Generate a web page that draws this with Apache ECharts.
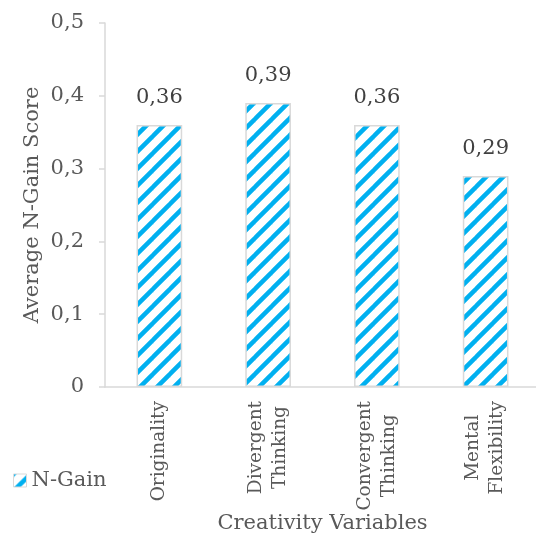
<!DOCTYPE html>
<html><head><meta charset="utf-8">
<script src="https://cdn.jsdelivr.net/npm/echarts@6/dist/echarts.min.js"></script>
<style>html,body{margin:0;padding:0;background:#fff}#c{width:536px;height:538px}</style>
</head><body><div id="c"></div>
<script>
const categories = ['Originality', 'Divergent\nThinking', 'Convergent\nThinking', 'Mental\nFlexibility'];
const nGain = [0.36, 0.39, 0.36, 0.29];
const yTicks = [0, 0.1, 0.2, 0.3, 0.4, 0.5];

function stripe() {
  const s = 17, c = document.createElement('canvas');
  c.width = s; c.height = s;
  const g = c.getContext('2d');
  g.fillStyle = '#fff'; g.fillRect(0, 0, s, s);
  g.strokeStyle = '#00B0F0'; g.lineWidth = 4.5; g.lineCap = 'square';
  for (const o of [-s, 0, s]) {
    g.beginPath(); g.moveTo(o, s); g.lineTo(o + s, 0); g.stroke();
  }
  return c;
}
const pat = { image: stripe(), repeat: 'repeat' };
const font = 'DejaVu Serif';
const fs = 21;
const xfs = 18.5;
const chart = echarts.init(document.getElementById('c'));
chart.setOption({
  animation: false,
  textStyle: { fontFamily: font },
  grid: { left: 105, right: -4, top: 23, bottom: 151, containLabel: false, outerBoundsMode: 'none' },
  legend: {
    left: 8, top: 465, itemWidth: 13, itemHeight: 13, itemGap: 4,
    textStyle: { fontFamily: font, fontSize: fs, color: '#595959' },
    data: [{ name: 'N-Gain', icon: 'rect', itemStyle: { color: pat, borderColor: '#d9d9d9', borderWidth: 1 } }]
  },
  xAxis: {
    type: 'category', data: categories,
    name: 'Creativity Variables', nameLocation: 'middle', nameGap: 126, nameMoveOverlap: false,
    nameTextStyle: { fontFamily: font, fontSize: fs, color: '#595959' },
    axisLine: { lineStyle: { color: '#d9d9d9', width: 1.5 } },
    axisTick: { show: false },
    axisLabel: {
      rotate: 90, margin: 14, interval: 0, fontSize: xfs, color: '#595959', lineHeight: 24,
      formatter: v => v.split('\n').map(l => '{c|' + l + '}').join('\n'),
      rich: { c: { align: 'center', fontSize: xfs, fontFamily: font, color: '#595959', lineHeight: 24 } }
    }
  },
  yAxis: {
    type: 'value', min: 0, max: 0.5, interval: 0.1,
    name: 'Average N-Gain Score', nameLocation: 'middle', nameGap: 62, nameMoveOverlap: false,
    nameTextStyle: { fontFamily: font, fontSize: fs, color: '#595959' },
    axisLine: { show: true, lineStyle: { color: '#d9d9d9', width: 1.5 } },
    axisTick: { show: true, length: 6, lineStyle: { color: '#d9d9d9', width: 1.5 } },
    splitLine: { show: false },
    axisLabel: {
      fontSize: fs, color: '#595959', margin: 21,
      formatter: v => yTicks.includes(Math.round(v * 10) / 10) ? String(Math.round(v * 10) / 10).replace('.', ',') : ''
    }
  },
  series: [{
    name: 'N-Gain', type: 'bar', data: nGain, barWidth: '42%',
    itemStyle: { color: pat, borderColor: '#d9d9d9', borderWidth: 1.5 },
    label: {
      show: true, position: 'top', distance: 17, fontSize: fs, color: '#404040', fontFamily: font,
      formatter: p => String(p.value).replace('.', ',')
    }
  }]
});
</script></body></html>
